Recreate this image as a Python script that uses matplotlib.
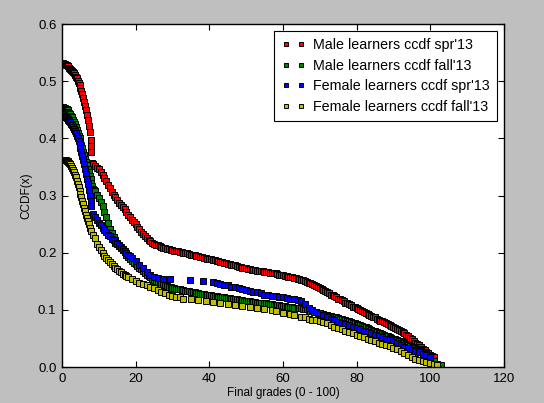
import matplotlib
matplotlib.use("Agg")
from matplotlib import pyplot as plt

plt.rcParams['font.family'] = ['Liberation Sans', 'DejaVu Sans']

# Male learners, spring '13
male_spr_x = [0, 0.25, 0.5, 0.75, 1, 1.25, 1.5, 1.75, 2, 2.25, 2.5, 2.75, 3, 3.25, 3.5, 3.75,
              4, 4.25, 4.5, 4.75, 5, 5.25, 5.5, 5.75, 6, 6.25, 6.5, 6.75, 7, 7.25, 7.5, 7.75,
              7.9, 8.0,
              8.2, 8.5, 9, 9.5, 10, 10.5, 11, 11.5, 12, 12.5, 13, 13.5, 14, 14.5, 15, 15.5,
              16, 16.5, 17, 17.5, 18, 18.5, 19, 19.5, 20, 20.5, 21, 21.5, 22, 22.5, 23, 23.5,
              24, 24.5, 25, 25.5, 26, 26.5, 27, 27.5, 28, 28.5, 29, 29.5, 30, 30.5, 31, 31.5,
              32, 32.5, 33, 33.5, 34, 34.5, 35, 35.5, 36, 36.5, 37, 37.5, 38, 38.5, 39, 39.5,
              40, 40.5, 41, 41.5, 42, 42.5, 43, 43.5, 44, 44.5, 45, 45.5, 46, 46.5, 47, 47.5,
              48, 48.5, 49, 49.5, 50, 50.5, 51, 51.5, 52, 52.5, 53, 53.5, 54, 54.5, 55, 55.5,
              56, 56.5, 57, 57.5, 58, 58.5, 59, 59.5, 60, 60.5, 61, 61.5, 62, 62.5, 63, 63.5,
              64, 64.5, 65, 65.5, 66, 66.5, 67, 67.5, 68, 68.5, 69, 69.5, 70, 70.5, 71, 71.5,
              72, 72.5, 73, 73.5, 74, 74.5, 75, 75.5, 76, 76.5, 77, 77.5, 78, 78.5, 79, 79.5,
              80, 80.5, 81, 81.5, 82, 82.5, 83, 83.5, 84, 84.5, 85, 85.5, 86, 86.5, 87, 87.5,
              88, 88.5, 89, 89.5, 90, 90.5, 91, 91.5, 92, 92.5, 93, 93.5, 94, 94.5, 95, 95.5,
              96, 96.5, 97, 97.5, 98, 98.5, 99, 99.5, 100, 100.5, 101]
male_spr_y = [0.532, 0.532, 0.531, 0.530, 0.529, 0.528, 0.527, 0.526, 0.524, 0.522, 0.520,
              0.518, 0.516, 0.514, 0.511, 0.508, 0.505, 0.501, 0.497, 0.493, 0.488, 0.483,
              0.477, 0.471, 0.464, 0.457, 0.449, 0.441, 0.432, 0.422, 0.412, 0.398,
              0.386, 0.376,
              0.358, 0.356, 0.352, 0.349, 0.346, 0.341, 0.336, 0.331, 0.325, 0.319, 0.313,
              0.307, 0.302, 0.297, 0.292, 0.288, 0.284, 0.280, 0.276, 0.272, 0.267, 0.262,
              0.258, 0.254, 0.250, 0.245, 0.241, 0.237, 0.233, 0.229, 0.226, 0.223, 0.220,
              0.218, 0.216, 0.214, 0.213, 0.212, 0.211, 0.209, 0.208, 0.207, 0.206, 0.2055,
              0.205, 0.204, 0.203, 0.2025, 0.202, 0.201, 0.200, 0.1995, 0.199, 0.198, 0.197,
              0.1965, 0.196, 0.195, 0.194, 0.193, 0.192, 0.1915, 0.191, 0.190, 0.189, 0.1885,
              0.188, 0.187, 0.186, 0.185, 0.184, 0.1835, 0.183, 0.182, 0.181, 0.180, 0.179,
              0.1785, 0.178, 0.177, 0.176, 0.175, 0.174, 0.1735, 0.173, 0.172, 0.171, 0.1705,
              0.170, 0.1695, 0.169, 0.1685, 0.168, 0.1675, 0.167, 0.1665, 0.166, 0.1655,
              0.165, 0.1645, 0.164, 0.163, 0.162, 0.1615, 0.161, 0.160, 0.159, 0.1585, 0.158,
              0.157, 0.156, 0.1555, 0.155, 0.154, 0.153, 0.152, 0.151, 0.1495, 0.148, 0.1465,
              0.145, 0.1435, 0.142, 0.1405, 0.139, 0.137, 0.135, 0.133, 0.131, 0.129, 0.127,
              0.1255, 0.124, 0.122, 0.120, 0.1185, 0.117, 0.115, 0.113, 0.1115, 0.110, 0.108,
              0.106, 0.1045, 0.103, 0.1015, 0.100, 0.0985, 0.097, 0.095, 0.093, 0.0915, 0.090,
              0.0885, 0.087, 0.085, 0.083, 0.0815, 0.080, 0.0785, 0.077, 0.0755, 0.074,
              0.0725, 0.071, 0.069, 0.067, 0.065, 0.063, 0.061, 0.059, 0.0565, 0.054, 0.0515,
              0.049, 0.046, 0.043, 0.0405, 0.038, 0.035, 0.032, 0.0295, 0.027, 0.024, 0.021,
              0.019, 0.017]

# Male learners, fall '13
male_fall_x = [0, 0.25, 0.5, 0.75, 1, 1.25, 1.5, 1.75, 2, 2.25, 2.5, 2.75, 3, 3.25, 3.5, 3.75,
               4, 4.25, 4.5, 4.75, 5, 5.25, 5.5, 5.75, 6, 6.25, 6.5, 6.75, 7, 7.25, 7.5, 7.75,
               8, 8.25, 8.5, 8.75, 9, 9.5, 10, 10.5, 11, 11.5, 12, 12.5, 13, 13.5, 14, 14.5,
               15, 15.5, 16, 16.5, 17, 17.5, 18, 18.5, 19, 19.5, 20, 20.5, 21, 21.5, 22, 22.5,
               23, 23.5, 24, 24.5, 25, 25.5, 26, 26.5, 27, 27.5, 28, 28.5, 29, 29.5, 30, 30.5,
               31, 31.5, 32, 32.5, 33, 33.5, 34, 34.5, 35, 35.5, 36, 36.5, 37, 37.5, 38, 38.5,
               39, 39.5, 40, 40.5, 41, 41.5, 42, 42.5, 43, 43.5, 44, 44.5, 45, 45.5, 46, 46.5,
               47, 47.5, 48, 48.5, 49, 49.5, 50, 50.5, 51, 51.5, 52, 52.5, 53, 53.5, 54, 55,
               55.5, 56, 56.5, 57, 57.5, 58, 58.5, 59, 59.5, 60, 60.5, 61, 61.5, 62, 62.5, 63,
               64, 64.5, 65, 65.5, 66, 66.5, 67, 67.5, 68, 68.5, 69, 69.5, 70, 70.5, 71, 71.5,
               72, 72.5, 73, 73.5, 74, 74.5, 75, 75.5, 76, 76.5, 77, 77.5, 78, 78.5, 79, 79.5,
               80, 80.5, 81, 81.5, 82, 82.5, 83, 83.5, 84, 84.5, 85, 85.5, 86, 86.5, 87, 87.5,
               88, 88.5, 89, 89.5, 90, 90.5, 91, 91.5, 92, 92.5, 93, 93.5, 94, 94.5, 95, 95.5,
               96, 96.5, 97, 97.5, 98, 98.5, 99, 99.5, 100, 101, 102, 103]
male_fall_y = [0.455, 0.455, 0.454, 0.453, 0.452, 0.451, 0.449, 0.447, 0.445, 0.443, 0.440,
               0.437, 0.433, 0.429, 0.425, 0.420, 0.415, 0.410, 0.405, 0.400, 0.394, 0.389,
               0.383, 0.377, 0.371, 0.365, 0.359, 0.353, 0.347, 0.341, 0.335, 0.329,
               0.323, 0.317, 0.312, 0.310, 0.308, 0.302, 0.296, 0.289, 0.282, 0.272, 0.262,
               0.252, 0.242, 0.235, 0.228, 0.223, 0.218, 0.214, 0.210, 0.205, 0.201, 0.197,
               0.193, 0.189, 0.186, 0.183, 0.180, 0.177, 0.174, 0.171, 0.168, 0.165, 0.162,
               0.1595, 0.157, 0.1545, 0.152, 0.150, 0.148, 0.1465, 0.145, 0.144, 0.143, 0.142,
               0.141, 0.140, 0.139, 0.138, 0.137, 0.1365, 0.136, 0.1355, 0.135, 0.134, 0.133,
               0.1325, 0.132, 0.1315, 0.131, 0.130, 0.129, 0.1285, 0.128, 0.1275, 0.127,
               0.1265, 0.126, 0.1255, 0.125, 0.1245, 0.124, 0.1235, 0.123, 0.1225, 0.122,
               0.1215, 0.121, 0.1205, 0.120, 0.1195, 0.119, 0.1185, 0.118, 0.1175, 0.117,
               0.1165, 0.116, 0.1155, 0.115, 0.1145, 0.114, 0.1135, 0.113, 0.1125, 0.112,
               0.112, 0.1115, 0.111, 0.1105, 0.110, 0.1095, 0.109, 0.1085, 0.108, 0.1075,
               0.107, 0.1065, 0.106, 0.1055, 0.105, 0.1045, 0.104, 0.104, 0.1035, 0.103,
               0.1025, 0.102, 0.101, 0.100, 0.099, 0.098, 0.097, 0.096, 0.095, 0.094, 0.0935,
               0.093, 0.092, 0.091, 0.090, 0.089, 0.0885, 0.088, 0.087, 0.086, 0.085, 0.084,
               0.083, 0.082, 0.081, 0.080, 0.079, 0.078, 0.077, 0.076, 0.0745, 0.073, 0.072,
               0.071, 0.0695, 0.068, 0.0665, 0.065, 0.064, 0.063, 0.0615, 0.060, 0.059, 0.058,
               0.0565, 0.055, 0.054, 0.053, 0.0515, 0.050, 0.049, 0.048, 0.0465, 0.045,
               0.0435, 0.042, 0.0405, 0.039, 0.0375, 0.036, 0.0345, 0.033, 0.0315, 0.030,
               0.0285, 0.027, 0.025, 0.023, 0.021, 0.019, 0.010, 0.006, 0.004]

# Female learners, spring '13
female_spr_x = [0, 0.25, 0.5, 0.75, 1, 1.25, 1.5, 1.75, 2, 2.25, 2.5, 2.75, 3, 3.25, 3.5,
                3.75, 4, 4.25, 4.5, 4.75, 5, 5.25, 5.5, 5.75, 6, 6.25, 6.5, 6.75, 7, 7.25,
                7.5, 7.75, 8, 8.5, 9, 9.5, 10, 10.5, 11, 11.5, 12, 12.5, 13, 13.5, 14, 14.5,
                15, 15.5, 16, 16.5, 17, 17.5, 18, 18.5, 19, 20, 21, 22, 23, 24, 25, 26, 27.4,
                29.3, 34.8, 38.3, 41, 42, 43, 44, 45, 46, 47, 48, 49, 50, 51, 52, 53, 54, 55,
                56, 57, 58, 59, 60, 61, 62, 63, 64, 65, 66, 67, 68, 69, 70, 71, 72, 73, 74, 75,
                76, 77, 78, 79, 80, 81, 82, 83, 84, 85, 86, 87, 88, 89, 90, 91, 92, 93, 94, 95,
                96, 97, 98, 99, 100]
female_spr_y = [0.440, 0.440, 0.439, 0.438, 0.437, 0.436, 0.434, 0.433, 0.431, 0.429, 0.426,
                0.423, 0.420, 0.417, 0.413, 0.409, 0.405, 0.400, 0.395, 0.390, 0.384, 0.377,
                0.370, 0.363, 0.355, 0.347, 0.338, 0.329, 0.320, 0.310, 0.300, 0.291, 0.282,
                0.268, 0.262, 0.257, 0.252, 0.248, 0.244, 0.240, 0.236, 0.232, 0.229, 0.225,
                0.222, 0.218, 0.215, 0.212, 0.209, 0.206, 0.203, 0.200, 0.197, 0.194, 0.191,
                0.185, 0.179, 0.173, 0.167, 0.162, 0.158, 0.156, 0.155,
                0.154, 0.152, 0.151, 0.149, 0.148, 0.146, 0.144, 0.143, 0.141, 0.140, 0.138,
                0.137, 0.135, 0.134, 0.132, 0.131, 0.129, 0.127, 0.126, 0.125, 0.124, 0.123,
                0.122, 0.121, 0.120, 0.119, 0.118, 0.115, 0.110, 0.104, 0.100, 0.097, 0.094,
                0.091, 0.088, 0.085, 0.082, 0.079, 0.077, 0.075, 0.073, 0.071, 0.069, 0.067,
                0.064, 0.062, 0.060, 0.057, 0.055, 0.052, 0.049, 0.047, 0.044, 0.042, 0.039,
                0.036, 0.033, 0.030, 0.028, 0.026, 0.023, 0.021, 0.018]

# Female learners, fall '13
female_fall_x = [0, 0.25, 0.5, 0.75, 1, 1.25, 1.5, 1.75, 2, 2.25, 2.5, 2.75, 3, 3.25, 3.5,
                 3.75, 4, 4.25, 4.5, 4.75, 5, 5.25, 5.5, 5.75, 6, 6.25, 6.5, 6.75, 7, 7.25,
                 7.5, 8, 8.5, 9, 9.5, 10, 10.5, 11, 11.5, 12, 12.5, 13, 13.5, 14, 14.5, 15,
                 15.5, 16, 16.5, 17, 17.5, 18, 19, 20, 21, 22, 23, 24, 25, 26,
                 27, 28, 29, 30, 31, 32, 33, 35, 37, 39, 41, 43, 45, 47, 49, 51, 53, 55, 57,
                 58, 60, 62, 63, 65, 66, 67, 68, 69, 70, 71, 72, 73, 74, 75, 76, 77, 78, 79,
                 80, 81, 82, 83, 84, 85, 86, 87, 88, 89, 90, 91, 92, 93, 94, 95, 96, 97, 98,
                 99, 100, 101, 102]
female_fall_y = [0.363, 0.363, 0.363, 0.362, 0.362, 0.361, 0.360, 0.359, 0.357, 0.355, 0.352,
                 0.349, 0.345, 0.341, 0.337, 0.332, 0.326, 0.321, 0.315, 0.309, 0.303, 0.297,
                 0.291, 0.285, 0.279, 0.273, 0.267, 0.261, 0.255, 0.250, 0.244, 0.238, 0.232,
                 0.226, 0.216, 0.210, 0.205, 0.200, 0.195, 0.191, 0.187, 0.184, 0.180, 0.177,
                 0.174, 0.172, 0.169, 0.166, 0.163, 0.161, 0.159, 0.157, 0.154, 0.150, 0.148,
                 0.146, 0.143, 0.140, 0.138, 0.135,
                 0.132, 0.129, 0.127, 0.125, 0.123, 0.122, 0.120, 0.119, 0.117, 0.116, 0.114,
                 0.113, 0.111, 0.109, 0.107, 0.105, 0.104, 0.102, 0.100,
                 0.098, 0.095, 0.093, 0.091, 0.088, 0.087, 0.085, 0.083, 0.082, 0.080, 0.079,
                 0.077, 0.074, 0.071, 0.068, 0.066, 0.064, 0.062, 0.060,
                 0.057, 0.055, 0.052, 0.050, 0.047, 0.045, 0.043, 0.041, 0.039, 0.037, 0.034,
                 0.031, 0.028, 0.024, 0.021, 0.018, 0.014, 0.012, 0.010,
                 0.009, 0.007, 0.005, 0.004]

series = [
    (male_spr_x, male_spr_y, (1, 0, 0), "Male learners ccdf spr'13"),
    (male_fall_x, male_fall_y, (0, 0.5, 0), "Male learners ccdf fall'13"),
    (female_spr_x, female_spr_y, (0, 0, 1), "Female learners ccdf spr'13"),
    (female_fall_x, female_fall_y, (0.75, 0.75, 0), "Female learners ccdf fall'13"),
]

fig = plt.figure(figsize=(5.44, 4.03), dpi=100, facecolor='#bfbfbf')
ax = fig.add_axes([0.114, 0.089, 0.812, 0.851])
ax.set_facecolor('white')

for x, y, c, lab in series:
    ax.plot(x, y, linestyle='none', marker='s', markersize=4.7, color=c,
            markeredgecolor='k', markeredgewidth=0.7, label=lab)

ax.set_xlim(0, 120)
ax.set_ylim(0, 0.6)
ax.set_xticks(range(0, 121, 20))
ax.set_yticks([0.0, 0.1, 0.2, 0.3, 0.4, 0.5, 0.6])
ax.set_yticklabels(['0.0', '0.1', '0.2', '0.3', '0.4', '0.5', '0.6'])
ax.tick_params(direction='in', top=True, right=True, length=4, labelsize=9.5, pad=4)
for s in ax.spines.values():
    s.set_linewidth(1)

ax.set_xlabel('Final grades (0 - 100)', fontsize=8.5, labelpad=2)
ax.set_ylabel('CCDF(x)', fontsize=8.5)

leg = ax.legend(loc='upper right', numpoints=2, fontsize=10.3, fancybox=False,
                framealpha=1, edgecolor='k', borderaxespad=0.5, handletextpad=0.5,
                handlelength=1.7, labelspacing=0.45, markerscale=0.7, borderpad=0.5)
leg.get_frame().set_linewidth(0.8)

plt.savefig('out.png', dpi=100, facecolor=fig.get_facecolor())
